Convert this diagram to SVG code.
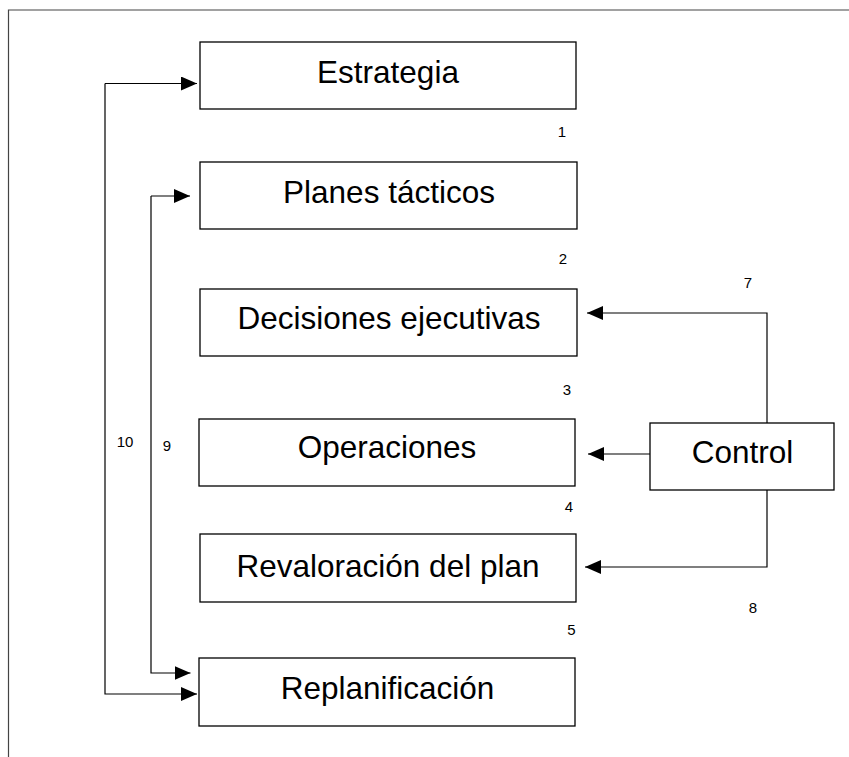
<svg xmlns="http://www.w3.org/2000/svg" width="849" height="757" viewBox="0 0 849 757">
<defs>
<style>
.box{fill:#fff;stroke:#000;stroke-width:1.3}
.lbl{font-family:"Liberation Sans",Arial,sans-serif;font-size:31.5px;fill:#000;text-anchor:middle}
.num{font-family:"Liberation Sans",Arial,sans-serif;font-size:15px;fill:#000;text-anchor:middle}
.con{fill:none;stroke:#000;stroke-width:1.2}
</style>
<marker id="ah" viewBox="0 0 16 14" refX="16" refY="7" markerWidth="16" markerHeight="14" markerUnits="userSpaceOnUse" orient="auto">
<path d="M0,0 L16,7 L0,14 Z" fill="#000"/>
</marker>
</defs>
<rect width="849" height="757" fill="#fff"/>
<path d="M8.5,757 L8.5,10 L849,10" fill="none" stroke="#444" stroke-width="1.2"/>
<g id="estrategia"><rect class="box" x="200" y="42" width="376" height="67"/><text class="lbl" x="388" y="82.7">Estrategia</text></g>
<g id="planes"><rect class="box" x="200" y="162" width="377" height="67"/><text class="lbl" x="389" y="202.7">Planes tácticos</text></g>
<g id="decisiones"><rect class="box" x="200" y="289" width="377" height="67"/><text class="lbl" x="389" y="329.3">Decisiones ejecutivas</text></g>
<g id="operaciones"><rect class="box" x="199" y="419" width="376" height="67"/><text class="lbl" x="387" y="458.3">Operaciones</text></g>
<g id="revaloracion"><rect class="box" x="200" y="534" width="376" height="68"/><text class="lbl" x="388" y="576.7">Revaloración del plan</text></g>
<g id="replanificacion"><rect class="box" x="199" y="658" width="376" height="68"/><text class="lbl" x="387.5" y="699.3">Replanificación</text></g>
<g id="control"><rect class="box" x="650" y="423" width="184" height="67"/><text class="lbl" x="742.5" y="462.7">Control</text></g>
<g id="connectors">
<path class="con" d="M105,83.5 L197,83.5" marker-end="url(#ah)"/>
<path class="con" d="M105,83.5 L105,694 L197,694" marker-end="url(#ah)"/>
<path class="con" d="M151,196 L190,196" marker-end="url(#ah)"/>
<path class="con" d="M151,196 L151,673 L190.5,673" marker-end="url(#ah)"/>
<path class="con" d="M767,423 L767,313 L587,313" marker-end="url(#ah)"/>
<path class="con" d="M650,454 L588,454" marker-end="url(#ah)"/>
<path class="con" d="M767,490 L767,567 L585,567" marker-end="url(#ah)"/>
</g>
<g id="numbers">
<text class="num" x="562" y="137.3">1</text>
<text class="num" x="563" y="264">2</text>
<text class="num" x="567" y="395">3</text>
<text class="num" x="569" y="511.7">4</text>
<text class="num" x="571.5" y="635">5</text>
<text class="num" x="748" y="288">7</text>
<text class="num" x="753" y="613">8</text>
<text class="num" x="167" y="450.7">9</text>
<text class="num" x="125" y="447.3">10</text>
</g>
</svg>
